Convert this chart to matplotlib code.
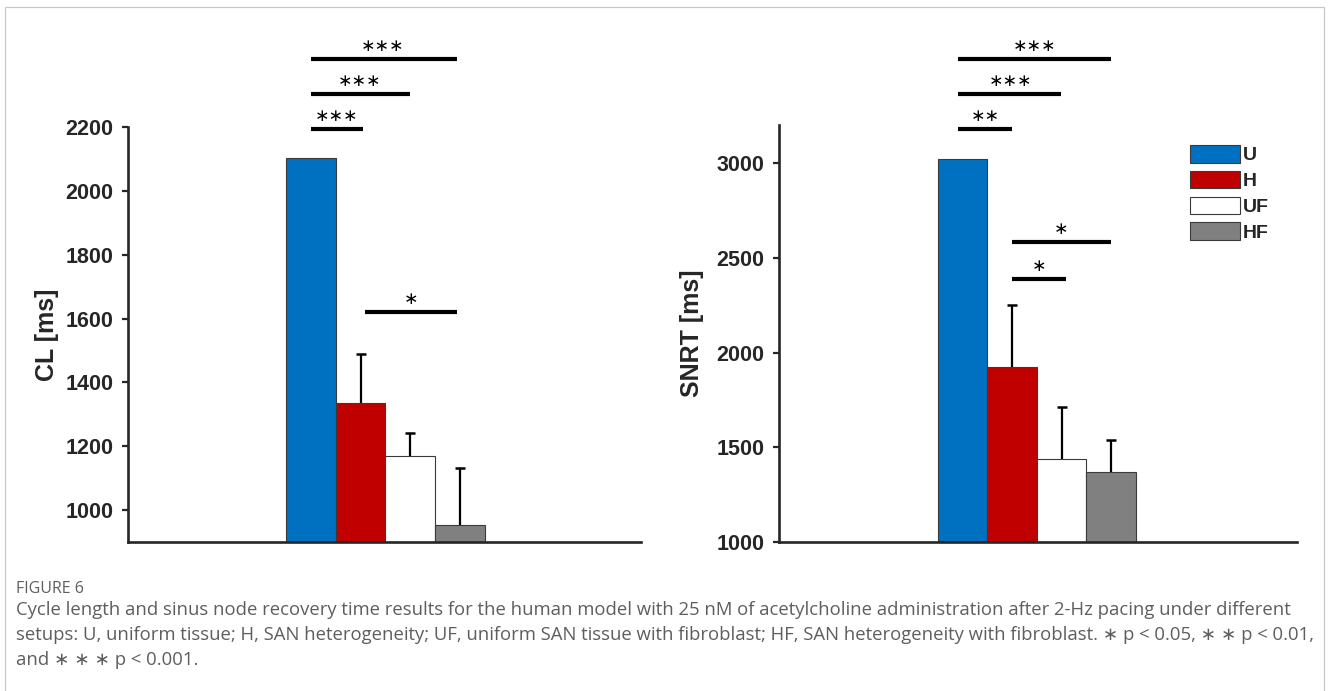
import matplotlib
matplotlib.use("Agg")
import matplotlib.pyplot as plt
from matplotlib.patches import Rectangle
import numpy as np

# ---------------- data ----------------
groups = ["U", "H", "UF", "HF"]
colors = ["#0070C0", "#C00000", "#FFFFFF", "#808080"]

cl_values = [2103, 1334, 1170, 953]
cl_errors = [0, 154, 73, 178]

snrt_values = [3021, 1923, 1439, 1370]
snrt_errors = [0, 328, 272, 168]

cl_yticks = [1000, 1200, 1400, 1600, 1800, 2000, 2200]
snrt_yticks = [1000, 1500, 2000, 2500, 3000]

# significance brackets: (x start, x end, y, label, label x)
cl_sig = [
    (0.0, 2.95, 2413, "∗∗∗", 1.44),
    (0.0, 1.99, 2303, "∗∗∗", 0.98),
    (0.0, 1.05, 2194, "∗∗∗", 0.52),
    (1.08, 2.95, 1620, "∗", 2.01),
]
snrt_sig = [
    (-0.09, 3.0, 3549, "∗∗∗", 1.46),
    (-0.09, 1.99, 3364, "∗∗∗", 0.96),
    (-0.09, 1.0, 3179, "∗∗", 0.45),
    (1.0, 3.0, 2583, "∗", 1.99),
    (1.0, 2.09, 2388, "∗", 1.55),
]

caption_title = "FIGURE 6"
caption_lines = [
    "Cycle length and sinus node recovery time results for the human model with 25 nM of acetylcholine administration after 2-Hz pacing under different",
    "setups: U, uniform tissue; H, SAN heterogeneity; UF, uniform SAN tissue with fibroblast; HF, SAN heterogeneity with fibroblast. ∗ p < 0.05, ∗ ∗ p < 0.01,",
    "and ∗ ∗ ∗ p < 0.001.",
]

# ---------------- style ----------------
plt.rcParams["font.family"] = ["Liberation Sans", "DejaVu Sans"]
W, H = 1328, 691
fig = plt.figure(figsize=(W / 100, H / 100), dpi=100)

axis_color = "#262626"


def px_axes(x0, x1, ytop, ybot):
    return [x0 / W, 1 - ybot / H, (x1 - x0) / W, (ybot - ytop) / H]


def draw_panel(ax, values, errors, yticks, ylim, xlim, sig, ylabel, label_x, legend=False):
    x = np.arange(len(groups))
    handles = []
    for i, g in enumerate(groups):
        b = ax.bar(x[i], values[i] - ylim[0], bottom=ylim[0], width=1.0,
                   color=colors[i], edgecolor="#3a3a3a", linewidth=0.8,
                   label=g, zorder=2)
        handles.append(b)
    for i in range(len(groups)):
        if errors[i] > 0:
            ax.errorbar(x[i], values[i], yerr=[[0], [errors[i]]], fmt="none",
                        ecolor="black", elinewidth=1.6, capsize=0, zorder=3)
            ax.plot(x[i], values[i] + errors[i], marker="_", markersize=7.5,
                    markeredgewidth=1.8, color="black", zorder=3)
    ax.set_xlim(*xlim)
    ax.set_ylim(*ylim)
    ax.set_yticks(yticks)
    ax.set_yticklabels([str(t) for t in yticks], fontsize=15.5,
                       fontweight="bold", color=axis_color)
    ax.set_xticks([])
    for s in ["top", "right"]:
        ax.spines[s].set_visible(False)
    for s in ["left", "bottom"]:
        ax.spines[s].set_linewidth(1.9)
        ax.spines[s].set_color(axis_color)
    ax.tick_params(axis="y", direction="out", length=4.5, width=1.6,
                   color=axis_color, pad=6)
    ax.set_ylabel(ylabel, fontsize=18, fontweight="bold", color=axis_color)
    ax.yaxis.label.set_va("center")
    ax.yaxis.set_label_coords(label_x, 0.5)

    for (xs, xe, yy, lab, xt) in sig:
        ax.plot([xs, xe], [yy, yy], color="black", linewidth=3.0,
                solid_capstyle="butt", clip_on=False, zorder=4)
        ax.annotate(lab, xy=(xt, yy), xytext=(0, 9.5), textcoords="offset points",
                    ha="center", va="center", fontsize=12.5,
                    family=["DejaVu Sans"], color="black",
                    annotation_clip=False)

    if legend:
        leg = ax.legend(handles=handles, labels=groups, loc="upper left",
                        bbox_to_anchor=(0.794, 0.952), frameon=False,
                        prop={"weight": "bold", "size": 14},
                        handlelength=2.55, handleheight=1.0,
                        handletextpad=0.15, labelspacing=0.33,
                        borderpad=0, borderaxespad=0)
        for t in leg.get_texts():
            t.set_color(axis_color)


ax1 = fig.add_axes(px_axes(128, 641, 127, 542))
draw_panel(ax1, cl_values, cl_errors, cl_yticks, (900, 2200), (-3.7, 6.66),
           cl_sig, "CL [ms]", -0.158)

ax2 = fig.add_axes(px_axes(779, 1297, 125.1, 542))
draw_panel(ax2, snrt_values, snrt_errors, snrt_yticks, (1000, 3200), (-3.71, 6.76),
           snrt_sig, "SNRT [ms]", -0.168, legend=True)

# frame border
fig.patches.append(Rectangle((4.5 / W, -0.05), (1324 - 4.5) / W, 1.05 - 7.5 / H,
                             transform=fig.transFigure, fill=False,
                             edgecolor="#c8c8c8", linewidth=0.9))

# caption
cap_font = ["Open Sans", "DejaVu Sans"]
fig.text(16 / W, 1 - 589 / H, caption_title, fontsize=11.5, color="#5e5e5e",
         family=cap_font, va="center", ha="left")
for k, line in enumerate(caption_lines):
    fig.text(16 / W, 1 - (610 + 25 * k) / H, line, fontsize=13.3,
             color="#5e5e5e", family=cap_font, va="center", ha="left")

fig.savefig("out.png", dpi=100)
